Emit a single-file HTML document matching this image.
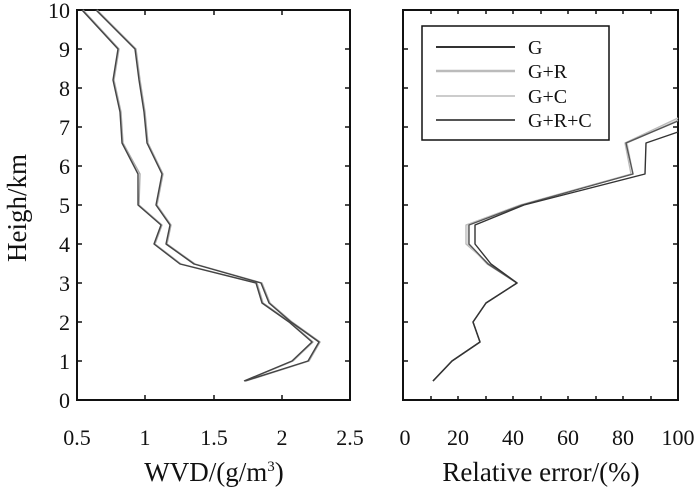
<!DOCTYPE html>
<html><head><meta charset="utf-8"><style>
html,body{margin:0;padding:0;background:#fff;}
svg{display:block;font-family:"Liberation Serif",serif;}
</style></head><body>
<svg width="700" height="491" viewBox="0 0 700 491" xmlns="http://www.w3.org/2000/svg">
<g fill="none" stroke="#111" stroke-width="2">
<rect x="77" y="10" width="273" height="390"/>
<rect x="403" y="10" width="275" height="390"/>
</g>
<g stroke="#111" stroke-width="1.5">
<path d="M77 361h5M77 322h5M77 283h5M77 244h5M77 205h5M77 166h5M77 127h5M77 88h5M77 49h5
M350 361h-5M350 322h-5M350 283h-5M350 244h-5M350 205h-5M350 166h-5M350 127h-5M350 88h-5M350 49h-5"/>
<path d="M145 400v-5M214 400v-5M282 400v-5M145 10v5M214 10v5M282 10v5"/>
<path d="M403 361h5M403 322h5M403 283h5M403 244h5M403 205h5M403 166h5M403 127h5M403 88h5M403 49h5
M678 361h-5M678 322h-5M678 283h-5M678 244h-5M678 205h-5M678 166h-5M678 127h-5M678 88h-5M678 49h-5"/>
<path d="M431 400v-4M458 400v-4M486 400v-4M513 400v-4M541 400v-4M568 400v-4M596 400v-4M623 400v-4M651 400v-4
M431 10v4M458 10v4M486 10v4M513 10v4M541 10v4M568 10v4M596 10v4M623 10v4M651 10v4"/>
</g>
<g fill="none" stroke-width="1.4" stroke-linejoin="round">
<polyline stroke="#aaa" points="83,10 119,49 114,80 121,112 123,143 140,174 139,205 162,225 155,244 181,264 257,283 263,303 290,322 313,342 293,361 245,381"/>
<polyline stroke="#444" points="82,10 118,49 113,80 120,112 122,143 138,174 138,205 161,225 154,244 180,264 256,283 262,303 289,322 312,342 292,361 244,381"/>
<polyline stroke="#aaa" points="97,10 136,49 140,80 145,112 148,143 163,174 157,205 171,225 167,244 195,264 262,283 270,303 292,322 320,342 309,361 246,381"/>
<polyline stroke="#444" points="96,10 135,49 139,80 144,112 147,143 162,174 156,205 170,225 166,244 194,264 261,283 269,303 291,322 319,342 308,361 245,381"/>
</g>
<g fill="none" stroke-width="1.4" stroke-linejoin="round">
<polyline stroke="#bbb" points="433,381 452,361 480,342 473,322 486,303 517,283 489,264 466,244 466,225 520,205 631,174 625,143 678,118"/>
<polyline stroke="#ccc" points="433,381 452,361 480,342 473,322 486,303 517,283 487,264 468,244 468,225 521,205 633,174 627,143 678,120"/>
<polyline stroke="#555" points="433,381 452,361 480,342 473,322 486,303 517,283 488,264 469,244 469,225 522,205 633,174 626,143 678,121"/>
<polyline stroke="#333" points="433,381 452,361 480,342 473,322 486,303 517,283 491,264 475,244 475,225 524,205 645,174 646,143 678,132"/>
</g>
<rect x="422" y="26" width="187" height="114" fill="#fff" stroke="#111" stroke-width="1.5"/>
<g stroke-width="2">
<line x1="436" y1="47" x2="515" y2="47" stroke="#333"/>
<line x1="436" y1="71" x2="515" y2="71" stroke="#bbb" stroke-width="2.5"/>
<line x1="436" y1="96" x2="515" y2="96" stroke="#bbb" stroke-width="1.5"/>
<line x1="436" y1="120" x2="515" y2="120" stroke="#555"/>
</g>
<g font-size="20" fill="#111">
<text x="528" y="54">G</text><text x="528" y="78">G+R</text><text x="528" y="103">G+C</text><text x="528" y="127">G+R+C</text>
</g>
<g font-size="22" fill="#111" text-anchor="end">
<text x="70" y="408">0</text><text x="70" y="369">1</text><text x="70" y="330">2</text><text x="70" y="291">3</text><text x="70" y="252">4</text><text x="70" y="213">5</text><text x="70" y="174">6</text><text x="70" y="135">7</text><text x="70" y="96">8</text><text x="70" y="57">9</text><text x="70" y="18">10</text>
</g>
<g font-size="22" fill="#111" text-anchor="middle">
<text x="77" y="445">0.5</text><text x="145" y="445">1</text><text x="214" y="445">1.5</text><text x="282" y="445">2</text><text x="350" y="445">2.5</text>
<text x="405" y="445">0</text><text x="458" y="445">20</text><text x="513" y="445">40</text><text x="568" y="445">60</text><text x="623" y="445">80</text><text x="678" y="445">100</text>
</g>
<g font-size="27" fill="#111" text-anchor="middle">
<text x="214" y="481">WVD/(g/m<tspan font-size="15" dy="-10">3</tspan><tspan dy="10">)</tspan></text>
<text x="541" y="481">Relative error/(%)</text>
<text transform="translate(26,208) rotate(-90)">Heigh/km</text>
</g>
</svg>
</body></html>
